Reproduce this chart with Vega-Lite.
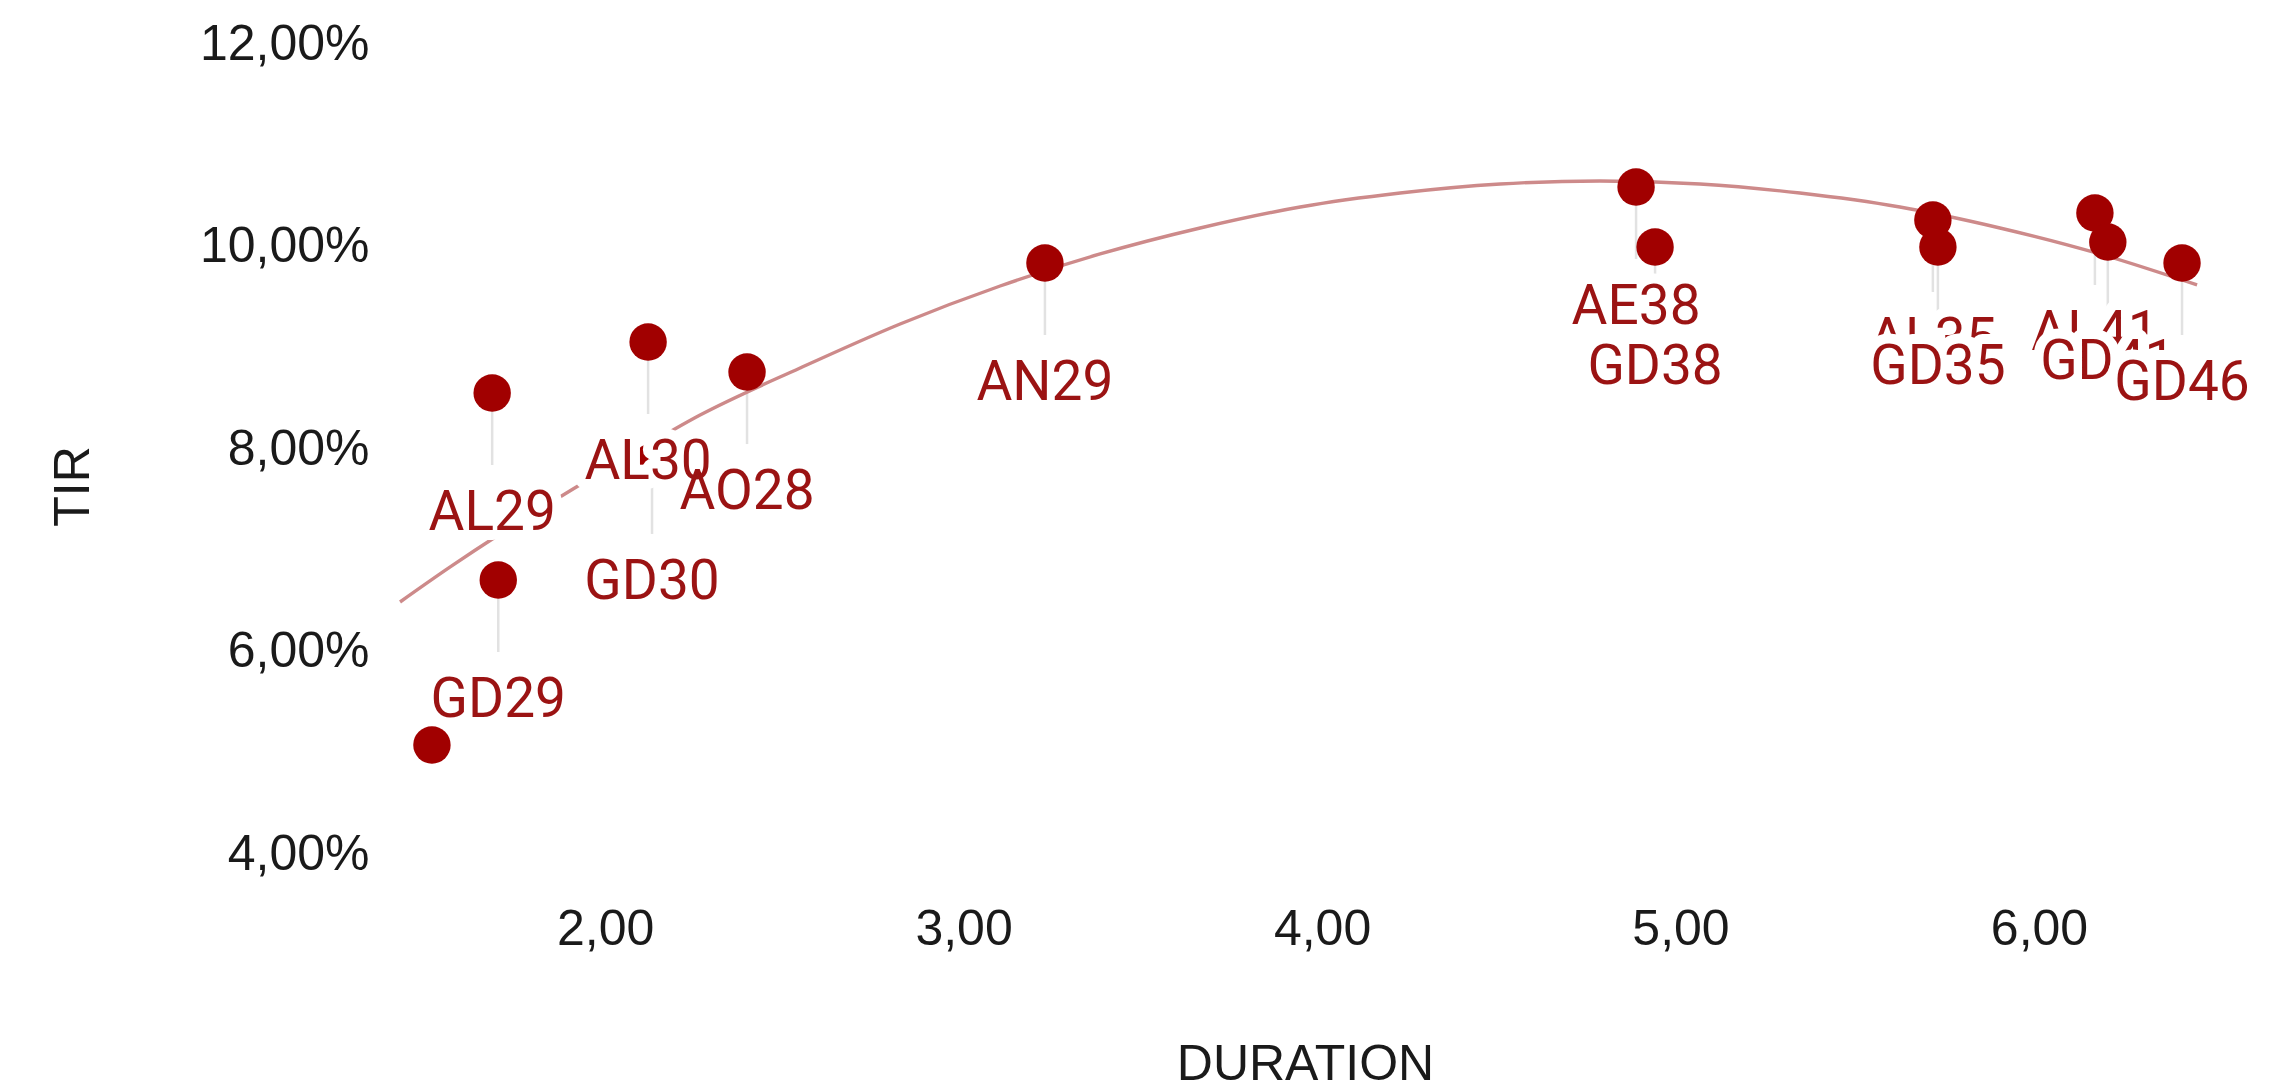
{
  "$schema": "https://vega.github.io/schema/vega-lite/v6.json",
  "width": 1882,
  "height": 891,
  "autosize": {"type": "none"},
  "padding": {"left": 390, "top": 3.5, "right": 22, "bottom": 194.5},
  "background": "white",
  "config": {
    "view": {"stroke": null},
    "locale": {"number": {"decimal": ",", "thousands": ".", "grouping": [3], "currency": ["", " €"]}},
    "axis": {
      "grid": false, "domain": false, "ticks": false,
      "labelFont": "Liberation Sans", "labelFontSize": 50, "labelColor": "#1a1a1a",
      "titleFont": "Liberation Sans", "titleFontSize": 50, "titleFontWeight": "normal", "titleColor": "#1a1a1a"
    }
  },
  "datasets": {
    "bonds": [
      {"name": null, "duration": 1.517, "tir": 0.05077},
      {"name": "AL29", "duration": 1.685, "tir": 0.08553},
      {"name": "GD29", "duration": 1.702, "tir": 0.06706},
      {"name": "AO28", "duration": 2.396, "tir": 0.08760},
      {"name": "GD30", "duration": 2.131, "tir": 0.07872},
      {"name": "AL30", "duration": 2.120, "tir": 0.09057},
      {"name": "AN29", "duration": 3.227, "tir": 0.09837},
      {"name": "AE38", "duration": 4.876, "tir": 0.10588},
      {"name": "GD38", "duration": 4.929, "tir": 0.09995},
      {"name": "AL35", "duration": 5.704, "tir": 0.10262},
      {"name": "GD35", "duration": 5.718, "tir": 0.09995},
      {"name": "AL41", "duration": 6.156, "tir": 0.10331},
      {"name": "GD41", "duration": 6.192, "tir": 0.10044},
      {"name": "GD46", "duration": 6.399, "tir": 0.09837}
    ],
    "curve": [
      {"duration": 1.428, "tir": 0.06489},
      {"duration": 1.568, "tir": 0.06835},
      {"duration": 1.707, "tir": 0.07160},
      {"duration": 1.874, "tir": 0.07526},
      {"duration": 2.042, "tir": 0.07881},
      {"duration": 2.265, "tir": 0.08336},
      {"duration": 2.544, "tir": 0.08800},
      {"duration": 2.823, "tir": 0.09235},
      {"duration": 3.102, "tir": 0.09610},
      {"duration": 3.381, "tir": 0.09926},
      {"duration": 3.660, "tir": 0.10183},
      {"duration": 3.939, "tir": 0.10390},
      {"duration": 4.218, "tir": 0.10528},
      {"duration": 4.497, "tir": 0.10617},
      {"duration": 4.775, "tir": 0.10647},
      {"duration": 5.054, "tir": 0.10617},
      {"duration": 5.333, "tir": 0.10528},
      {"duration": 5.612, "tir": 0.10390},
      {"duration": 5.891, "tir": 0.10183},
      {"duration": 6.170, "tir": 0.09926},
      {"duration": 6.441, "tir": 0.09620}
    ]
  },
  "encoding": {
    "x": {
      "field": "duration", "type": "quantitative",
      "scale": {"domain": [1.40, 6.65], "nice": false, "zero": false},
      "axis": {"values": [2, 3, 4, 5, 6], "format": ".2f", "labelPadding": 10, "title": "DURATION",
               "titleX": 915, "titleY": 169.5, "titleAlign": "center", "titleBaseline": "middle"}
    },
    "y": {
      "field": "tir", "type": "quantitative",
      "scale": {"domain": [0.036, 0.124], "nice": false, "zero": false},
      "axis": {"values": [0.04, 0.06, 0.08, 0.10, 0.12], "format": ".2%", "labelPadding": 21, "title": "TIR",
               "titleX": -317, "titleY": 482.5, "titleAngle": -90, "titleAlign": "center", "titleBaseline": "middle"}
    }
  },
  "layer": [
    {
      "data": {"name": "bonds"},
      "transform": [{"filter": "datum.name != null"}],
      "mark": {"type": "rule", "color": "#e2e2e2", "strokeWidth": 2.5, "y2Offset": 72},
      "encoding": {"y2": {"field": "tir"}}
    },
    {
      "data": {"name": "curve"},
      "mark": {"type": "line", "color": "#CD8A8A", "strokeWidth": 3.4, "interpolate": "monotone"},
      "encoding": {}
    },
    {
      "data": {"name": "bonds"},
      "mark": {"type": "circle", "size": 1400, "color": "#A10000", "opacity": 1},
      "encoding": {}
    },
    {
      "data": {"name": "bonds"},
      "transform": [{"filter": "datum.name != null && indexof(['GD35','GD41','GD46'], datum.name) < 0"}],
      "mark": {"type": "text", "font": "Roboto", "fontSize": 55, "baseline": "middle", "align": "center", "dy": 120, "fill": "white", "stroke": "white", "strokeWidth": 20, "strokeJoin": "round"},
      "encoding": {"text": {"field": "name"}}
    },
    {
      "data": {"name": "bonds"},
      "transform": [{"filter": "datum.name != null && indexof(['GD35','GD41','GD46'], datum.name) < 0"}],
      "mark": {"type": "text", "font": "Roboto", "fontSize": 55, "baseline": "middle", "align": "center", "dy": 120, "color": "#9B1313"},
      "encoding": {"text": {"field": "name"}}
    },
    {
      "data": {"name": "bonds"},
      "transform": [{"filter": {"field": "name", "oneOf": ["GD35", "GD41"]}}],
      "mark": {"type": "text", "font": "Roboto", "fontSize": 55, "baseline": "middle", "align": "center", "dy": 120, "fill": "white", "stroke": "white", "strokeWidth": 20, "strokeJoin": "round"},
      "encoding": {"text": {"field": "name"}}
    },
    {
      "data": {"name": "bonds"},
      "transform": [{"filter": {"field": "name", "oneOf": ["GD35", "GD41"]}}],
      "mark": {"type": "text", "font": "Roboto", "fontSize": 55, "baseline": "middle", "align": "center", "dy": 120, "color": "#9B1313"},
      "encoding": {"text": {"field": "name"}}
    },
    {
      "data": {"name": "bonds"},
      "transform": [{"filter": {"field": "name", "oneOf": ["GD46"]}}],
      "mark": {"type": "text", "font": "Roboto", "fontSize": 55, "baseline": "middle", "align": "center", "dy": 120, "fill": "white", "stroke": "white", "strokeWidth": 20, "strokeJoin": "round"},
      "encoding": {"text": {"field": "name"}}
    },
    {
      "data": {"name": "bonds"},
      "transform": [{"filter": {"field": "name", "oneOf": ["GD46"]}}],
      "mark": {"type": "text", "font": "Roboto", "fontSize": 55, "baseline": "middle", "align": "center", "dy": 120, "color": "#9B1313"},
      "encoding": {"text": {"field": "name"}}
    }
  ]
}
